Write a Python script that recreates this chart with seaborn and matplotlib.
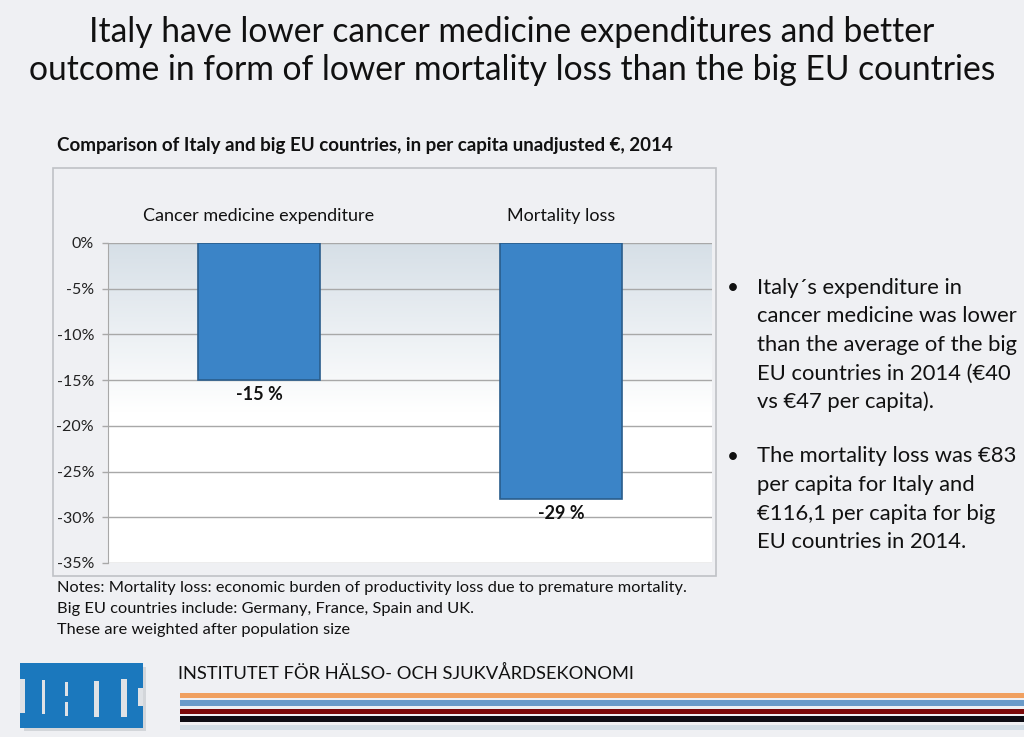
import numpy as np
import matplotlib
matplotlib.use("Agg")
import matplotlib.pyplot as plt
import seaborn as sns
from matplotlib.patches import Rectangle

# Data
categories = ["Cancer medicine expenditure", "Mortality loss"]
values = [-15, -28]
bar_labels = ["-15 %", "-29 %"]
yticks = [0, -5, -10, -15, -20, -25, -30, -35]
ytick_labels = ["0%", "-5%", "-10%", "-15%", "-20%", "-25%", "-30%", "-35%"]

title = ("Italy have lower cancer medicine expenditures and better\n"
         "outcome in form of lower mortality loss than the big EU countries")
subtitle = "Comparison of Italy and big EU countries, in per capita unadjusted €, 2014"
notes = ["Notes: Mortality loss: economic burden of productivity loss due to premature mortality.",
         "Big EU countries include: Germany, France, Spain and UK.",
         "These are weighted after population size"]
bullets = [["Italy´s expenditure in", "cancer medicine was lower",
            "than the average of the big", "EU countries in 2014 (€40",
            "vs €47 per capita)."],
           ["The mortality loss was €83", "per capita for Italy and",
            "€116,1 per capita for big", "EU countries in 2014."]]
institute = "INSTITUTET FÖR HÄLSO- OCH SJUKVÅRDSEKONOMI"

sns.set_style("white")
plt.rcParams["font.family"] = ["Lato", "DejaVu Sans"]

BG = "#eff0f3"
W, H = 1024, 737
fig = plt.figure(figsize=(W / 100, H / 100), dpi=100, facecolor=BG)


def fx(px):
    return px / W


def fy(py):
    return 1 - py / H


def px_rect(x, y, w, h, color, z):
    # rectangle given in pixel units (top-left origin)
    fig.patches.append(Rectangle((fx(x), fy(y + h)), fx(w), fy(y) - fy(y + h),
                                 transform=fig.transFigure, facecolor=color,
                                 edgecolor="none", zorder=z))


# title
fig.text(0.5, fy(51), title, ha="center", va="center", fontsize=24.2,
         color="#111111", linespacing=1.25)

# chart box
fig.patches.append(Rectangle((fx(53), fy(576)), fx(716) - fx(53), fy(168) - fy(576),
                             transform=fig.transFigure, facecolor=BG,
                             edgecolor="#bfc2c6", linewidth=1.2, zorder=-1))
fig.text(fx(57), fy(146), subtitle, ha="left", va="center", fontsize=13.5,
         fontweight="bold", color="#111111")

ax = fig.add_axes([fx(108), fy(563), fx(712) - fx(108), fy(243) - fy(563)])
ax.set_facecolor("white")

# gradient background of the plot area
grad = np.linspace(0, 1, 256).reshape(-1, 1)
grad = np.clip(grad * 1.9, 0, 1)
top = np.array([0.84, 0.875, 0.905])
img = top + (1 - top) * grad[..., None]
img = np.repeat(img, 2, axis=1)
ax.imshow(img, extent=[0, 1, 0, 1], transform=ax.transAxes, aspect="auto",
          zorder=0)

sns.barplot(x=categories, y=values, ax=ax, color="#3b84c7", width=0.405,
            edgecolor="#2a5d8c", linewidth=1.2, saturation=1, zorder=3)
for c in ax.containers:
    ax.bar_label(c, labels=bar_labels, padding=4, fontsize=13,
                 fontweight="bold", color="#111111")

ax.set_xlim(-0.5, 1.5)
ax.set_ylim(-35, 0)
ax.set_yticks(yticks)
ax.set_yticklabels(ytick_labels, fontsize=11.5, color="#222222")
ax.grid(axis="y", color="#a8a8a8", linewidth=1.0, zorder=1)
ax.set_axisbelow(True)
ax.xaxis.tick_top()
ax.tick_params(axis="x", length=0, pad=14, labelsize=13, colors="#111111")
ax.tick_params(axis="y", length=4, width=1, color="#a8a8a8", pad=6, left=True)
for s in ["top", "right", "bottom"]:
    ax.spines[s].set_visible(False)
ax.spines["left"].set_color("#a8a8a8")

# notes
for i, line in enumerate(notes):
    fig.text(fx(57), fy(588 + 21 * i), line, ha="left", va="center",
             fontsize=11.8, color="#111111")

# bullets
y0 = 288
for block in bullets:
    fig.text(fx(733), fy(y0), "•", ha="center", va="center", fontsize=15,
             color="#111111")
    for line in block:
        fig.text(fx(757), fy(y0), line, ha="left", va="center", fontsize=15.8,
                 color="#111111")
        y0 += 28.5
    y0 += 26

# logo
px_rect(24, 667, 122, 64, "#d3d6da", 1)
px_rect(20, 663, 123, 65, "#1b78bd", 2)
for sx, sy, sw, sh in [(20, 679, 5, 34), (42, 680, 3, 34), (65, 682, 3, 14),
                       (65, 702, 3, 14), (94, 681, 5, 36), (121, 679, 6, 38),
                       (138, 688, 5, 18)]:
    px_rect(sx, sy, sw, sh, "#dfe2e6", 3)

fig.text(fx(178), fy(673), institute, ha="left", va="center", fontsize=13.2,
         color="#111111")

# decorative stripes
for col, yy in [("#f0a060", 695), ("#6b9bc9", 703), ("#7b0a0a", 711),
                ("#0d0d14", 719), ("#d2dde6", 727)]:
    px_rect(180, yy - 2.5, W - 180, 5, col, 2)

fig.savefig("out.png", dpi=100, facecolor=BG)
